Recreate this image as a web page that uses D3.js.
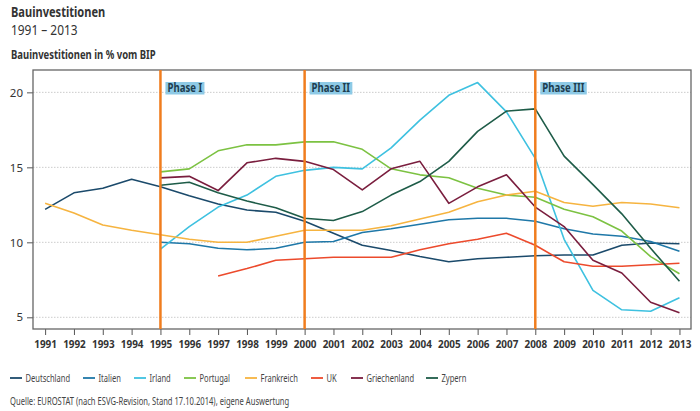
<!DOCTYPE html>
<head>
    <meta charset="utf-8" />
    <script src="https://d3js.org/d3.v7.min.js"></script>
    <style>
        body { margin: 0; background: #fff; }
        text { font-family: "Noto Sans", sans-serif; fill: #333; }
    </style>
</head>
<body>
<div id="chart"></div>
<script>
    // Daten: Bauinvestitionen in % vom BIP
    const years = d3.range(1991, 2014);
    const countries = ["Deutschland", "Italien", "Irland", "Portugal", "Frankreich", "UK", "Griechenland", "Zypern"];
    const colors = ["#1b4a6b", "#1f78a8", "#3ec1e0", "#7cc242", "#f6b440", "#ec4a2c", "#7a1e3e", "#1e5c48"];

    // null = kein Wert
    const deutschland = [12.2, 13.3, 13.6, 14.2, 13.7, 13.1, 12.55, 12.15, 12.0, 11.4, 10.6, 9.8, 9.45, 9.05, 8.7, 8.9, 9.0, 9.1, 9.15, 9.15, 9.8, 9.95, 9.9];
    const italien = [null, null, null, null, 10.0, 9.9, 9.6, 9.5, 9.6, 10.0, 10.05, 10.65, 10.9, 11.2, 11.5, 11.6, 11.6, 11.4, 10.9, 10.55, 10.4, 10.05, 9.4];
    const irland = [null, null, null, null, 9.55, 11.05, 12.35, 13.15, 14.4, 14.8, 15.0, 14.9, 16.3, 18.15, 19.8, 20.65, 18.7, 15.6, 10.2, 6.8, 5.5, 5.4, 6.3];
    const portugal = [null, null, null, null, 14.7, 14.9, 16.1, 16.5, 16.5, 16.7, 16.7, 16.2, 14.9, 14.5, 14.3, 13.6, 13.15, 13.0, 12.2, 11.7, 10.75, 9.05, 7.9];
    const frankreich = [12.6, 11.95, 11.15, 10.8, 10.5, 10.2, 10.0, 10.0, 10.4, 10.8, 10.8, 10.8, 11.1, 11.55, 12.0, 12.7, 13.15, 13.4, 12.65, 12.4, 12.65, 12.55, 12.3];
    const uk = [null, null, null, null, null, null, 7.75, 8.25, 8.8, 8.9, 9.0, 9.0, 9.0, 9.5, 9.9, 10.2, 10.6, 9.8, 8.7, 8.4, 8.4, 8.5, 8.6];
    const griechenland = [null, null, null, null, 14.3, 14.4, 13.45, 15.3, 15.6, 15.4, 14.85, 13.5, 14.9, 15.4, 12.6, 13.7, 14.5, 12.35, 11.05, 8.8, 7.95, 6.0, 5.3];
    const zypern = [null, null, null, null, 13.8, 14.0, 13.3, 12.75, 12.3, 11.6, 11.45, 12.05, 13.15, 14.05, 15.4, 17.4, 18.75, 18.9, 15.75, 13.85, 11.9, 9.6, 7.4];
    const seriesValues = [deutschland, italien, irland, portugal, frankreich, uk, griechenland, zypern];

    const yTicks = [5, 10, 15, 20];
    const phases = [{ year: 1995, label: "Phase I" }, { year: 2000, label: "Phase II" }, { year: 2008, label: "Phase III" }];

    const W = 700, H = 411;
    const plot = { left: 33, right: 691, top: 70, bottom: 329 };

    const svg = d3.select("#chart").append("svg")
        .attr("width", W)
        .attr("height", H);

    const x = d3.scaleLinear().domain([1990.58, 2013.4]).range([plot.left, plot.right]);
    const y = d3.scaleLinear().domain([4.22, 21.49]).range([plot.bottom, plot.top]);

    // Schrift etwas schmaler machen (Original nutzt eine schmale Schrift)
    function squeeze(sel, f) {
        sel.each(function() {
            const w = this.getComputedTextLength();
            d3.select(this).attr("textLength", w * f).attr("lengthAdjust", "spacingAndGlyphs");
        });
    }

    // Titel
    svg.append("text").attr("x", 11).attr("y", 17)
        .style("font-size", "14px").style("font-weight", "bold").text("Bauinvestitionen")
        .call(squeeze, 0.79);
    svg.append("text").attr("x", 11).attr("y", 35)
        .style("font-size", "14px").text("1991 – 2013")
        .call(squeeze, 0.85);
    svg.append("text").attr("x", 11).attr("y", 59)
        .style("font-size", "12px").style("font-weight", "bold").text("Bauinvestitionen in % vom BIP")
        .call(squeeze, 0.79);

    // Gitterlinien
    svg.append("g").selectAll("line").data(yTicks).enter().append("line")
        .attr("x1", plot.left).attr("x2", plot.right)
        .attr("y1", d => y(d)).attr("y2", d => y(d))
        .attr("stroke", "#ccc").attr("stroke-dasharray", "1.5,1.5");

    // Achsen
    const yAxis = svg.append("g")
        .attr("transform", "translate(" + plot.left + ",0)")
        .call(d3.axisLeft(y).tickValues(yTicks).tickSize(6).tickPadding(4));
    yAxis.select(".domain").remove();
    yAxis.selectAll("line").attr("stroke", "#555");
    yAxis.selectAll("text").style("font-size", "11.5px").style("fill", "#333")
        .style("font-family", "Noto Sans, sans-serif");

    const xAxis = svg.append("g")
        .attr("transform", "translate(0," + plot.bottom + ")")
        .call(d3.axisBottom(x).tickValues(years).tickFormat(d3.format("d")).tickSize(6).tickPadding(5));
    xAxis.select(".domain").remove();
    xAxis.selectAll("line").attr("stroke", "#555");
    xAxis.selectAll("text").style("font-size", "11px").style("font-weight", "bold").style("fill", "#333")
        .style("font-family", "Noto Sans, sans-serif")
        .call(squeeze, 0.9);

    // Rahmen
    svg.append("rect")
        .attr("x", plot.left).attr("y", plot.top)
        .attr("width", plot.right - plot.left).attr("height", plot.bottom - plot.top)
        .attr("fill", "none").attr("stroke", "#666").attr("stroke-width", 1.3);

    // Linien
    const line = d3.line()
        .defined(d => d.v !== null)
        .x(d => x(d.year))
        .y(d => y(d.v));

    svg.append("g").selectAll("path").data(seriesValues).enter().append("path")
        .attr("d", vals => line(vals.map((v, i) => ({ year: years[i], v: v }))))
        .attr("fill", "none")
        .attr("stroke", (d, i) => colors[i])
        .attr("stroke-width", 1.6)
        .attr("stroke-linejoin", "round");

    // Phasen
    const ph = svg.append("g").selectAll("g").data(phases).enter().append("g");
    ph.append("line")
        .attr("x1", d => x(d.year)).attr("x2", d => x(d.year))
        .attr("y1", plot.top).attr("y2", plot.bottom)
        .attr("stroke", "#f07d1e").attr("stroke-width", 2.5);
    ph.append("text")
        .attr("x", d => x(d.year) + 7).attr("y", 92)
        .style("font-size", "12px").style("font-weight", "bold").style("fill", "#1d3d4f")
        .text(d => d.label)
        .call(squeeze, 0.8);
    ph.each(function() {
        const t = d3.select(this).select("text");
        const b = t.node().getBBox();
        d3.select(this).insert("rect", "text")
            .attr("x", b.x - 2).attr("y", 82)
            .attr("width", b.width + 4).attr("height", 12.5)
            .attr("fill", "#8ecae6");
    });

    // Legende
    const legendX = [10, 83, 134, 184, 245, 311, 351, 426];
    const lg = svg.append("g").selectAll("g").data(countries).enter().append("g")
        .attr("transform", (d, i) => "translate(" + legendX[i] + ",378)");
    lg.append("line").attr("x1", 0).attr("x2", 12).attr("y1", 0).attr("y2", 0)
        .attr("stroke", (d, i) => colors[i]).attr("stroke-width", 1.8);
    lg.append("text").attr("x", 15.5).attr("y", 3.8)
        .style("font-size", "10.5px").style("fill", "#444").text(d => d)
        .call(squeeze, 0.72);

    // Quelle
    svg.append("text").attr("x", 10).attr("y", 405)
        .style("font-size", "10px").style("fill", "#444")
        .text("Quelle:  EUROSTAT (nach ESVG-Revision, Stand 17.10.2014), eigene Auswertung")
        .call(squeeze, 0.76);
</script>
</body>
